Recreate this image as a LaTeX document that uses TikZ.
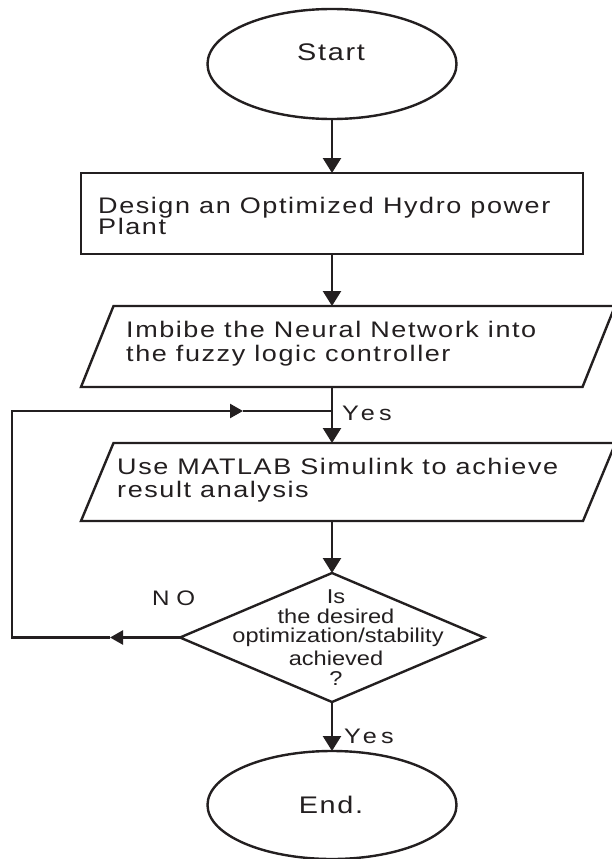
\documentclass[tikz,border=0pt]{standalone}
\usepackage{fontspec}
\setmainfont{Liberation Sans}
\newfontfamily\boxfont[FakeStretch=1.2,LetterSpace=7]{Liberation Sans}
\newfontfamily\dmdfont[FakeStretch=1.18]{Liberation Sans}
\newfontfamily\nofont[FakeStretch=1.15]{Liberation Sans}
\newfontfamily\lblfont[FakeStretch=1.2,LetterSpace=20]{Liberation Sans}
\usetikzlibrary{shapes.geometric,arrows.meta}
\definecolor{ink}{RGB}{35,31,32}
\begin{document}
\begin{tikzpicture}[x=1pt,y=-1pt,
  flow/.style={draw=ink, line width=2.4pt, line join=miter},
  arr/.style={-{Triangle[width=18pt,length=15pt]}},
  arrs/.style={-{Triangle[width=14pt,length=13pt]}},
  holder/.style={inner sep=0pt, outer sep=0pt},
  termtext/.style={inner sep=0pt, text=ink, font=\boxfont\fontsize{24}{24}\selectfont},
  boxtext/.style={inner sep=0pt, anchor=base west, text=ink, font=\boxfont\fontsize{22.5}{22.5}\selectfont},
  dmdtext/.style={inner sep=0pt, anchor=base, text=ink, font=\dmdfont\fontsize{20}{20}\selectfont},
  lbltext/.style={inner sep=0pt, anchor=base west, text=ink, font=\lblfont\fontsize{21}{21}\selectfont},
  notext/.style={inner sep=0pt, anchor=base west, text=ink, font=\nofont\fontsize{21}{21}\selectfont}]
\useasboundingbox (0,0) rectangle (611,859);
\fill[white] (0,0) rectangle (611,859);

% shapes
\node[holder, ellipse, flow, minimum width=249pt, minimum height=110pt] (start) at (332,64) {};
\node[holder, rectangle, flow, minimum width=502pt, minimum height=81pt] (design) at (332,213.5) {};
\node[holder, minimum width=534pt, minimum height=81pt] (imbibe) at (348,346.5) {};
\draw[flow] ([xshift=32.5pt]imbibe.north west) -- (imbibe.north east) -- ([xshift=-32.5pt]imbibe.south east) -- (imbibe.south west) -- cycle;
\node[holder, minimum width=534.5pt, minimum height=78pt] (matlab) at (348.25,482) {};
\draw[flow] ([xshift=32.5pt]matlab.north west) -- (matlab.north east) -- ([xshift=-32.5pt]matlab.south east) -- (matlab.south west) -- cycle;
\node[holder, minimum width=304pt, minimum height=129pt] (test) at (332,637.5) {};
\draw[flow] (test.north) -- (test.east) -- (test.south) -- (test.west) -- cycle;
\node[holder, ellipse, flow, minimum width=249pt, minimum height=108pt] (end) at (332,805) {};

% texts
\node[termtext, anchor=base] (tstart) at (331,61) {Start};
\node[boxtext] (tdes1) at (98,213) {Design an Optimized Hydro power};
\node[boxtext] (tdes2) at (98,234) {Plant};
\node[boxtext] (timb1) at (126,337) {Imbibe the Neural Network into};
\node[boxtext] (timb2) at (126,361) {the fuzzy logic controller};
\node[boxtext] (tuse1) at (117,474) {Use MATLAB Simulink to achieve};
\node[boxtext] (tuse2) at (117,497) {result analysis};
\node[dmdtext] (tq1) at (336,603) {Is};
\node[dmdtext] (tq2) at (336,623) {the desired};
\node[dmdtext] (tq3) at (338,642) {optimization/stability};
\node[dmdtext] (tq4) at (336,665) {achieved};
\node[dmdtext] (tq5) at (336,685) {?};
\node[lbltext] (tyes1) at (342,420) {Yes};
\node[notext] (tno) at (152,605) {N O};
\node[lbltext] (tyes2) at (344,743) {Yes};
\node[termtext, anchor=base] (tend) at (331,813) {End.};

% connectors
\coordinate (join) at (332,411);
\coordinate (noarr) at (110,637.5);
\coordinate (lb) at (12,637.5);
\coordinate (lt) at (12,411);
\coordinate (yarr) at (243,411);
\draw[flow, arr] (start.south) -- (design.north);
\draw[flow, arr] (design.south) -- (design.south |- imbibe.north);
\draw[flow, arr] (design.south |- imbibe.south) -- (design.south |- matlab.north);
\draw[flow, arr] (design.south |- matlab.south) -- (test.north);
\draw[flow, arr] (test.south) -- (end.north);
\draw[flow, arrs] (test.west) -- (noarr);
\draw[flow, arrs] (noarr) -- (lb) -- (lt) -- (yarr);
\draw[flow] (yarr) -- (join);
\end{tikzpicture}
\end{document}
